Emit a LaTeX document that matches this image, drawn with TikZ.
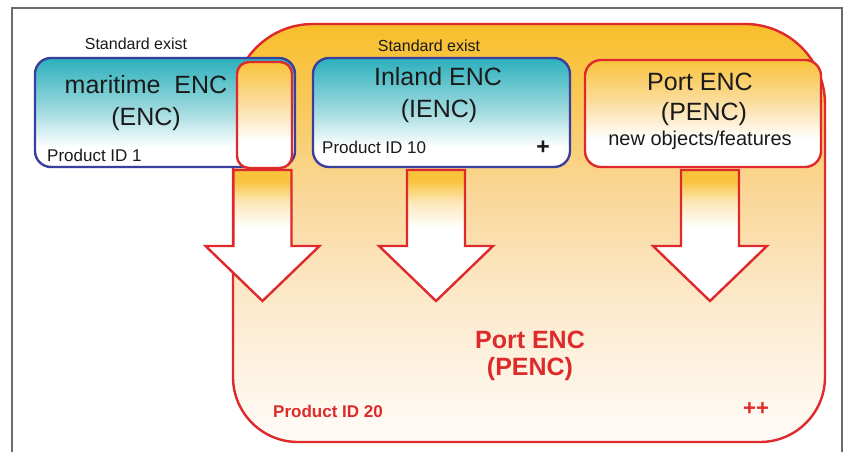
\documentclass[tikz,border=0pt]{standalone}
\usepackage{fontspec}
\setmainfont{Liberation Sans}
\definecolor{redline}{HTML}{DE2A2C}
\definecolor{blueline}{HTML}{3A3F9C}
\definecolor{framegray}{HTML}{6B6B6B}
\definecolor{txt}{HTML}{1A1A1A}
\definecolor{redtxt}{HTML}{DD2A2A}
\definecolor{bgA}{HTML}{FFFAF4}
\definecolor{bgB}{HTML}{FCE9CB}
\definecolor{bgC}{HTML}{FAD89C}
\definecolor{bgD}{HTML}{F9C958}
\definecolor{bgE}{HTML}{F8BE2A}
\definecolor{tealD}{HTML}{2BB0BC}
\definecolor{tealL}{HTML}{9AD8DD}
\definecolor{orD}{HTML}{F9C33C}
\definecolor{orL}{HTML}{FBDC9C}
\definecolor{arL}{HTML}{FCE7B5}
\pgfdeclareverticalshading{bigfade}{100bp}{color(0bp)=(bgA); color(27bp)=(bgA); color(42bp)=(bgB); color(54bp)=(bgC); color(66bp)=(bgD); color(75bp)=(bgE); color(100bp)=(bgE)}
\pgfdeclareverticalshading{tealfade}{100bp}{color(0bp)=(white); color(34bp)=(white); color(52bp)=(tealL); color(75bp)=(tealD); color(100bp)=(tealD)}
\pgfdeclareverticalshading{orfade}{100bp}{color(0bp)=(white); color(38bp)=(white); color(56bp)=(orL); color(75bp)=(orD); color(100bp)=(orD)}
\pgfdeclareverticalshading{arrfade}{100bp}{color(0bp)=(white); color(53bp)=(white); color(63bp)=(arL); color(71bp)=(orD); color(100bp)=(orD)}
\newcommand\blockarrowdown[1]{%
  \shadedraw[arrowst] (#1-29,170) -- (#1+29,170) -- (#1+29,246) -- (#1+57,246)
    -- (#1,301) -- (#1-57,246) -- (#1-29,246) -- cycle;}
\begin{document}
\begin{tikzpicture}[x=1pt,y=-1pt,
  tbox/.style={shade, line width=2.4pt, rounded corners=16pt, inner sep=0pt},
  arrowst/.style={shading=arrfade, draw=redline, line width=2.4pt, line join=miter},
  lbl/.style={inner sep=0pt, text=txt, anchor=base},
  bigt/.style={lbl, font=\fontsize{25}{28}\selectfont},
  midt/.style={lbl, font=\fontsize{20}{24}\selectfont},
  smallt/.style={lbl, font=\fontsize{16}{19}\selectfont},
  prodt/.style={lbl, anchor=base west, font=\fontsize{17}{20}\selectfont},
  redbig/.style={lbl, text=redtxt, font=\bfseries\fontsize{25}{28}\selectfont},
  redsmall/.style={lbl, text=redtxt, font=\bfseries\fontsize{17}{20}\selectfont}]
\useasboundingbox (0,0) rectangle (846,452);
\fill[white] (0,0) rectangle (846,452);
\draw[framegray, line width=1.6pt] (12,452) -- (12,8) -- (842,8) -- (842,452);
% big Port ENC area
\shadedraw[shading=bigfade, draw=redline, line width=2.4pt]
  (233,250) [rounded corners=80pt] -- (233,24) -- (825,24) -- (825,250)
  [rounded corners=65pt] -- (825,442) -- (233,442) -- cycle;
% boxes
\node[tbox, draw=blueline, shading=tealfade, minimum width=260pt, minimum height=109pt] (mar) at (165,112.5) {};
\node[tbox, draw=redline, shading=orfade, minimum width=55pt, minimum height=106pt, rounded corners=12pt] (marx) at (264.5,115) {};
\node[tbox, draw=blueline, shading=tealfade, minimum width=257pt, minimum height=109pt] (inl) at (441.5,112.5) {};
\node[tbox, draw=redline, shading=orfade, minimum width=236pt, minimum height=107pt] (prt) at (703,113.5) {};
% arrows
\blockarrowdown{262.5}
\blockarrowdown{436}
\blockarrowdown{710}
% texts
\node[smallt] (se1) at (136,50) {Standard exist};
\node[smallt] (se2) at (429,52) {Standard exist};
\node[bigt] (m1) at (146,93) {maritime\ \ ENC};
\node[bigt] (m2) at (146,125) {(ENC)};
\node[prodt] (m3) at (47,161) {Product ID 1};
\node[bigt] (i1) at (438,85) {Inland ENC};
\node[bigt] (i2) at (439,117) {(IENC)};
\node[prodt] (i3) at (322,153) {Product ID 10};
\node[lbl, font=\bfseries\fontsize{23}{26}\selectfont] (i4) at (543,154) {+};
\node[bigt] (p1) at (700,90) {Port ENC};
\node[bigt] (p2) at (704,120) {(PENC)};
\node[midt] (p3) at (700,145) {new objects/features};
\node[redbig] (b1) at (530,348) {Port ENC};
\node[redbig] (b2) at (530,375) {(PENC)};
\node[redsmall, anchor=base west] (b3) at (273,417) {Product ID 20};
\node[redsmall, font=\bfseries\fontsize{22}{26}\selectfont] (b4) at (756,415) {++};
\end{tikzpicture}
\end{document}
